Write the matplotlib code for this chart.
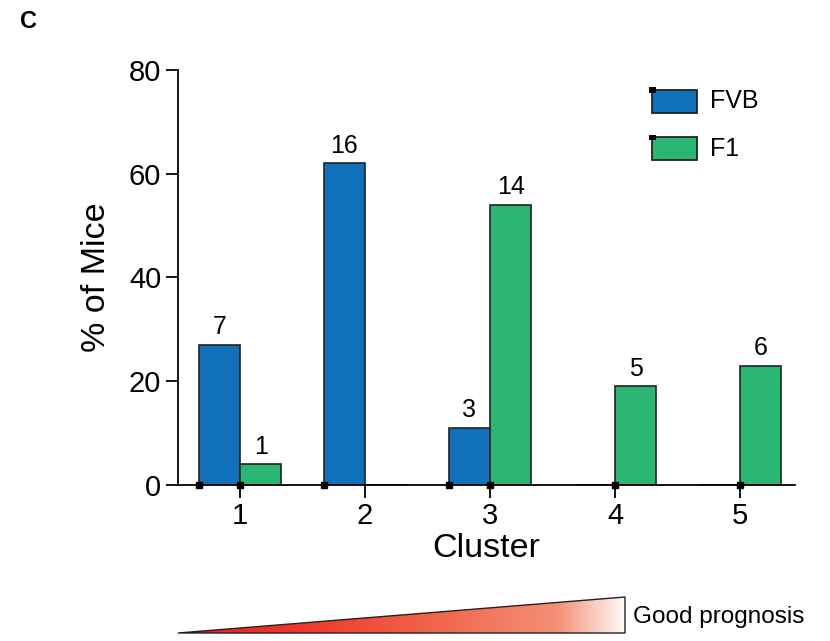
import numpy as np
import matplotlib
matplotlib.use("Agg")
import matplotlib.pyplot as plt
from matplotlib.patches import Polygon, Rectangle

plt.rcParams['font.family'] = ['Liberation Sans', 'DejaVu Sans']

clusters = [1, 2, 3, 4, 5]
fvb_pct = [27, 62, 11, 0, 0]
f1_pct = [4, 0, 54, 19, 23]
fvb_n = ["7", "16", "3", "", ""]
f1_n = ["1", "", "14", "5", "6"]

blue = "#1170ba"
green = "#2bb673"
w = 0.33

fig = plt.figure(figsize=(8.3, 6.41), dpi=100)
ax = fig.add_axes([0.2145, 0.2434, 0.7433, 0.6474])

x = np.array(clusters, dtype=float)
ax.bar(x - w, fvb_pct, width=w, align="edge", color=blue,
       edgecolor="#222222", linewidth=1.2, zorder=2)
ax.bar(x, f1_pct, width=w, align="edge", color=green,
       edgecolor="#222222", linewidth=1.2, zorder=2)

# little square at the base of each drawn bar
for xs, vals in [(x - w, fvb_pct), (x, f1_pct)]:
    keep = np.array(vals) > 0
    ax.plot(xs[keep], np.zeros(keep.sum()), "s", color="black",
            markersize=5, zorder=4, clip_on=False)

for xi, v, lab in zip(x - w / 2, fvb_pct, fvb_n):
    if lab:
        ax.annotate(lab, (xi, v), xytext=(0, 4), textcoords="offset points",
                    ha="center", va="bottom", fontsize=18)
for xi, v, lab in zip(x + w / 2, f1_pct, f1_n):
    if lab:
        ax.annotate(lab, (xi, v), xytext=(0, 4), textcoords="offset points",
                    ha="center", va="bottom", fontsize=18)

ax.set_xlim(0.504, 5.44)
ax.set_ylim(0, 80)
ax.set_xticks(clusters)
ax.set_yticks([0, 20, 40, 60, 80])
ax.tick_params(labelsize=21, length=9, width=1.3, pad=3)
for s in ["top", "right"]:
    ax.spines[s].set_visible(False)
for s in ["left", "bottom"]:
    ax.spines[s].set_linewidth(1.3)
ax.set_xlabel("Cluster", fontsize=24.5, labelpad=2.5)
ax.set_ylabel("% of Mice", fontsize=24.5, labelpad=12)

# legend drawn by hand
for yb, col, name in [(0.8237, blue, "FVB"), (0.750, green, "F1")]:
    fig.patches.append(Rectangle((0.7855, yb), 0.054, 0.036, transform=fig.transFigure,
                                 facecolor=col, edgecolor="#222222", linewidth=1.3))
    fig.patches.append(Rectangle((0.7825, yb + 0.031), 0.008, 0.009, transform=fig.transFigure,
                                 facecolor="black", edgecolor="none"))
    fig.text(0.855, yb + 0.018, name, fontsize=18, va="center", ha="left")

fig.text(0.024, 0.967, "C", fontsize=17, fontweight="bold", va="center")

# prognosis wedge with red-to-white gradient
gax = fig.add_axes([0, 0, 1, 1], zorder=-1)
gax.set_xlim(0, 830)
gax.set_ylim(641, 0)
gax.axis("off")
x0, x1, ytop, ybot = 178, 625, 597, 633
t = np.linspace(0, 1, 400)
stops = [0, 0.3, 0.6, 0.85, 1]
r = np.interp(t, stops, [232, 238, 240, 244, 255])
g = np.interp(t, stops, [28, 60, 105, 145, 252])
b = np.interp(t, stops, [34, 45, 80, 120, 250])
grad = np.stack([r, g, b], axis=-1)[None, :, :] / 255.0
im = gax.imshow(grad, extent=[x0, x1, ybot, ytop], aspect="auto")
tri = Polygon([[x0, ybot], [x1, ytop], [x1, ybot]], closed=True,
              facecolor="none", edgecolor="#222222", linewidth=1.0)
gax.add_patch(tri)
im.set_clip_path(tri)
gax.text(633, 617, "Good prognosis", fontsize=17.5, va="center", ha="left")

fig.savefig("out.png", dpi=100)
